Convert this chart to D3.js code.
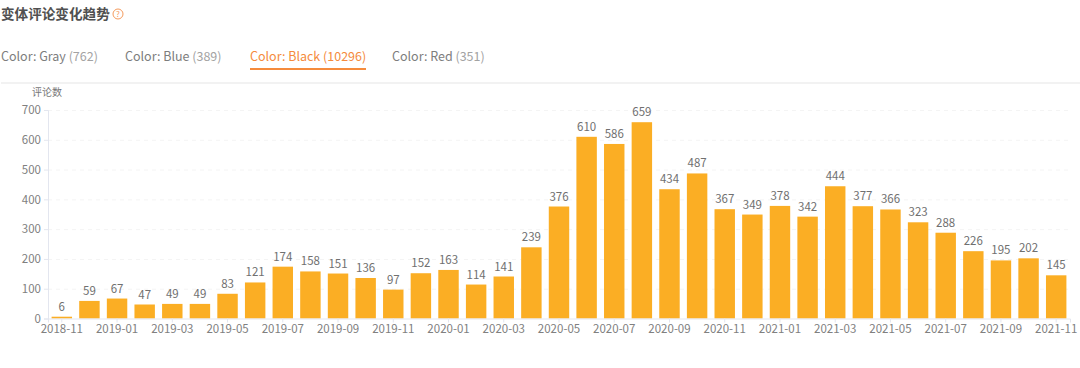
<!DOCTYPE html>
<html>
<head>
<meta charset="utf-8">
<script src="https://cdn.jsdelivr.net/npm/d3@7"></script>
<style>
    html, body { margin: 0; padding: 0; background: #fff; }
    svg { display: block; font-family: "Noto Sans CJK SC", "Noto Sans", sans-serif; }
</style>
</head>
<body>
<div id="chart"></div>
<script>
const months = ['2018-11','2018-12','2019-01','2019-02','2019-03','2019-04','2019-05','2019-06','2019-07','2019-08','2019-09','2019-10','2019-11','2019-12','2020-01','2020-02','2020-03','2020-04','2020-05','2020-06','2020-07','2020-08','2020-09','2020-10','2020-11','2020-12','2021-01','2021-02','2021-03','2021-04','2021-05','2021-06','2021-07','2021-08','2021-09','2021-10','2021-11'];
const reviewCounts = [6,59,67,47,49,49,83,121,174,158,151,136,97,152,163,114,141,239,376,610,586,659,434,487,367,349,378,342,444,377,366,323,288,226,195,202,145];
const yTicks = [0,100,200,300,400,500,600,700];
const tabNames = ['Color: Gray','Color: Blue','Color: Black','Color: Red'];
const tabCounts = ['(762)','(389)','(10296)','(351)'];
const activeTab = 2;

const width = 1080, height = 368;
const margin = { top: 110, right: 10, bottom: 49.5, left: 48 };
const innerW = width - margin.left - margin.right;
const innerH = height - margin.top - margin.bottom;
const fontFamily = '"Noto Sans CJK SC", "Noto Sans", sans-serif';

const svg = d3.select('#chart').append('svg')
    .attr('width', width)
    .attr('height', height);

// Title
svg.append('text').attr('x', 1).attr('y', 19)
    .attr('fill', '#505050').style('font-size', '13.6px').style('font-weight', 700)
    .text('变体评论变化趋势');
const help = svg.append('g').attr('transform', 'translate(118,14)');
help.append('circle').attr('r', 5).attr('fill', 'none').attr('stroke', '#f59a5c');
help.append('text').attr('y', 3).attr('text-anchor', 'middle')
    .attr('fill', '#f59a5c').style('font-size', '8px').text('?');

// Tabs
const tabX = [1, 125, 250, 392];
tabNames.forEach((name, i) => {
    const t = svg.append('text').attr('x', tabX[i]).attr('y', 60.5)
        .style('font-size', '12.5px');
    t.append('tspan').attr('fill', i === activeTab ? '#f58b3c' : '#7d7d7d').text(name + ' ');
    t.append('tspan').attr('fill', i === activeTab ? '#f58b3c' : '#a3a3a3').text(tabCounts[i]);
});
svg.append('rect').attr('x', 250).attr('y', 68).attr('width', 116).attr('height', 2).attr('fill', '#f58b3c');
svg.append('rect').attr('x', 1).attr('y', 82).attr('width', 1079).attr('height', 2).attr('fill', '#f2f2f2');

const g = svg.append('g').attr('transform', `translate(${margin.left},${margin.top})`);

// Scales
const xScale = d3.scaleBand().domain(months).range([0, innerW]).paddingInner(0.26).paddingOuter(0.13);
const yScale = d3.scaleLinear().domain([0, 700]).range([innerH, 0]);

// Gridlines
g.selectAll('.grid').data(yTicks.slice(1)).enter().append('line')
    .attr('x1', 0).attr('x2', innerW)
    .attr('y1', d => yScale(d) + 0.5).attr('y2', d => yScale(d) + 0.5)
    .attr('stroke', '#f4f4f4').attr('stroke-dasharray', '4,4');

// Bars
g.selectAll('.bar').data(months).enter().append('rect')
    .attr('x', d => xScale(d))
    .attr('width', xScale.bandwidth())
    .attr('y', (d, i) => yScale(reviewCounts[i]))
    .attr('height', (d, i) => innerH - yScale(reviewCounts[i]))
    .attr('fill', '#fbae24');

// Bar labels
g.selectAll('.label').data(months).enter().append('text')
    .attr('x', d => xScale(d) + xScale.bandwidth() / 2)
    .attr('y', (d, i) => yScale(reviewCounts[i]) - 6)
    .attr('text-anchor', 'middle').attr('fill', '#707070')
    .style('font-size', '11.5px')
    .text((d, i) => reviewCounts[i]);

// Axes
const xAxis = d3.axisBottom(xScale).tickValues(months.filter((d, i) => !(i % 2))).tickSize(4).tickPadding(2);
const yAxis = d3.axisLeft(yScale).tickValues(yTicks).tickSize(4).tickPadding(3);
const gx = g.append('g').attr('transform', `translate(0,${innerH})`).call(xAxis);
const gy = g.append('g').call(yAxis);
g.selectAll('.domain, .tick line').attr('stroke', '#e3e6ef');
g.selectAll('.tick text').attr('fill', '#808080').style('font-size', '11.5px').style('font-family', fontFamily);

// Axis name
svg.append('text').attr('x', 32).attr('y', 96).attr('fill', '#777')
    .style('font-size', '10px').text('评论数');
</script>
</body>
</html>
